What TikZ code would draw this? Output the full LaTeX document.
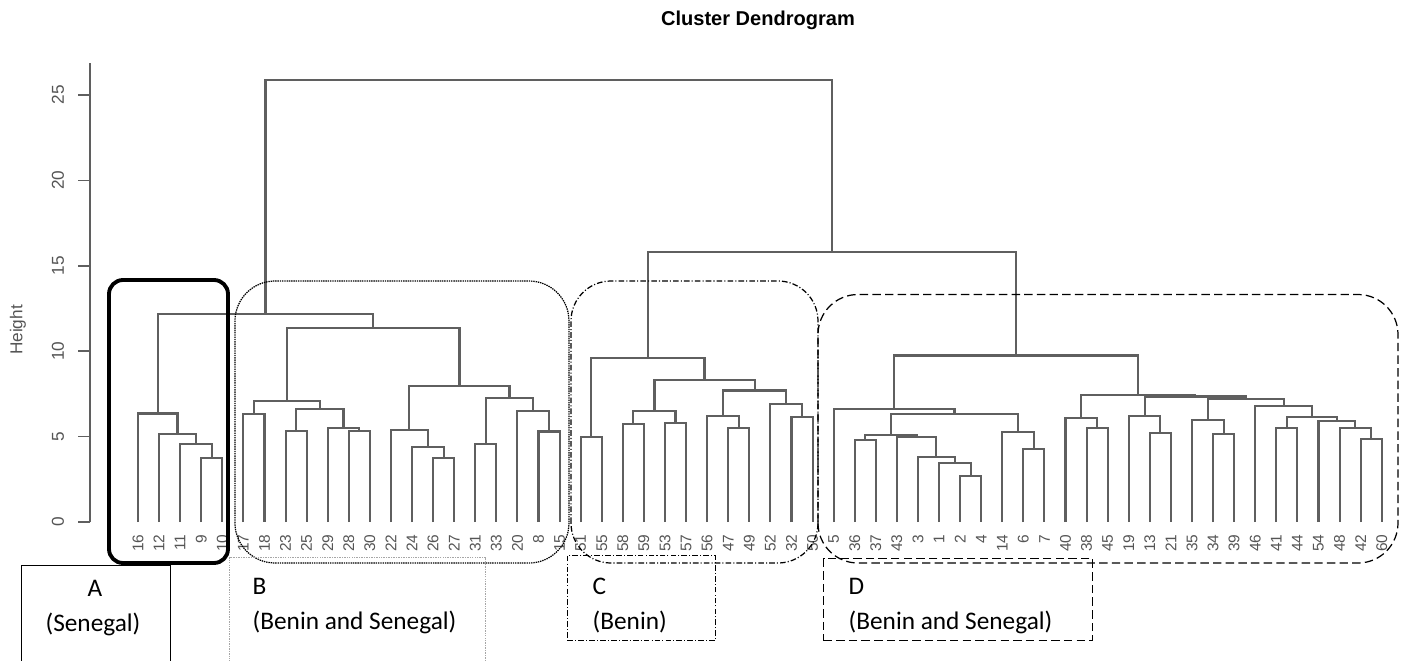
\documentclass[tikz,border=0pt]{standalone}
\usepackage{fontspec}
\setmainfont{Liberation Sans}
\newfontfamily\calibri{Carlito}
\usepackage{xcolor}
\usepackage{tikz}
\usetikzlibrary{calc,positioning}
\definecolor{dendgray}{RGB}{95,95,95}
\definecolor{labgray}{RGB}{85,85,85}
\tikzset{
  branch/.style={draw=dendgray, line width=0.6pt},
  axisline/.style={draw=dendgray, line width=0.5pt},
  leaflab/.style={rotate=90, anchor=east, inner sep=0pt, text=labgray, font=\fontsize{4.4}{5}\selectfont},
  ticklab/.style={rotate=90, inner sep=0pt, text=labgray, font=\fontsize{4.9}{5.8}\selectfont},
  grpbox/.style={draw=black, rounded corners=0.4cm, line width=0.35pt},
  labbox/.style={rectangle, draw, line width=0.3pt, inner sep=0pt, anchor=north west},
  labtext/.style={font=\calibri\fontsize{7.2}{8.6}\selectfont, inner sep=0pt, anchor=west},
}
% join two branches at a given height
\newcommand{\dmerge}[4]{%
  \path ($(#2)!0.5!(#3)$) coordinate (tmp);
  \coordinate (#1) at (tmp |- 0,#4);
  \draw[branch] (#2) |- (#1) -| (#3);
}

\begin{document}
\begin{tikzpicture}
  \useasboundingbox (0,0) rectangle (14.02,6.60);

  % Title and axis label
  \node[font=\bfseries\fontsize{5.7}{7}\selectfont] (title) at (7.58,6.40) {Cluster Dendrogram};
  \node[ticklab] (ylab) at (0.18,3.30) {Height};

  \begin{scope}[shift={(1.1692,1.38)}, x=0.2108cm, y=0.1708cm]
    % Height axis
    \draw[axisline] (-1.277,0) -- (-1.277,26.9);
    \foreach \h in {0,5,...,25} {
      \draw[axisline] (-1.277,\h) -- ++(-0.12cm,0);
      \node[ticklab] (tick\h) at (-2.795,\h) {\h};
    }

    % Leaves
    \foreach \lab [count=\i] in {16,12,11,9,10,17,18,23,25,29,28,30,22,24,26,27,31,33,20,8,15,
        51,55,58,59,53,57,56,47,49,52,32,50,5,36,37,43,3,1,2,4,14,6,7,40,38,45,19,13,21,
        35,34,39,46,41,44,54,48,42,60} {
      \coordinate (l\i) at (\i,0);
      \node[leaflab] (t\i) at (\i,-0.7) {\lab};
    }

    % Group A
    \dmerge{a1}{l4}{l5}{3.75}
    \dmerge{a2}{l3}{a1}{4.55}
    \dmerge{a3}{l2}{a2}{5.15}
    \dmerge{a4}{l1}{a3}{6.35}

    % Group B
    \dmerge{b1}{l6}{l7}{6.32}
    \dmerge{b2}{l8}{l9}{5.33}
    \dmerge{b3}{l11}{l12}{5.33}
    \dmerge{b4}{l10}{b3}{5.52}
    \dmerge{b5}{b2}{b4}{6.6}
    \dmerge{b6}{b1}{b5}{7.07}
    \dmerge{b7}{l15}{l16}{3.75}
    \dmerge{b8}{l14}{b7}{4.4}
    \dmerge{b9}{l13}{b8}{5.4}
    \dmerge{b10}{l17}{l18}{4.55}
    \dmerge{b11}{l20}{l21}{5.3}
    \dmerge{b12}{l19}{b11}{6.5}
    \dmerge{b13}{b10}{b12}{7.25}
    \dmerge{b14}{b9}{b13}{7.95}
    \dmerge{b15}{b6}{b14}{11.35}
    \dmerge{ab}{a4}{b15}{12.2}

    % Group C
    \dmerge{c1}{l22}{l23}{5.0}
    \dmerge{c2}{l24}{l25}{5.75}
    \dmerge{c3}{l26}{l27}{5.8}
    \dmerge{c4}{c2}{c3}{6.5}
    \dmerge{c5}{l29}{l30}{5.5}
    \dmerge{c6}{l28}{c5}{6.2}
    \dmerge{c7}{l32}{l33}{6.15}
    \dmerge{c8}{l31}{c7}{6.9}
    \dmerge{c9}{c6}{c8}{7.7}
    \dmerge{c10}{c4}{c9}{8.3}
    \dmerge{c11}{c1}{c10}{9.6}

    % Group D
    \dmerge{d1}{l35}{l36}{4.8}
    \dmerge{d2}{l40}{l41}{2.7}
    \dmerge{d3}{l39}{d2}{3.45}
    \dmerge{d4}{l38}{d3}{3.8}
    \dmerge{d5}{l37}{d4}{5.0}
    \dmerge{d6}{d1}{d5}{5.1}
    \dmerge{d7}{l43}{l44}{4.3}
    \dmerge{d8}{l42}{d7}{5.25}
    \dmerge{d9}{d6}{d8}{6.3}
    \dmerge{d10}{l34}{d9}{6.6}
    \dmerge{d11}{l46}{l47}{5.5}
    \dmerge{d12}{l45}{d11}{6.1}
    \dmerge{d13}{l49}{l50}{5.2}
    \dmerge{d14}{l48}{d13}{6.2}
    \dmerge{d15}{l52}{l53}{5.15}
    \dmerge{d16}{l51}{d15}{5.95}
    \dmerge{d17}{l55}{l56}{5.5}
    \dmerge{d18}{l59}{l60}{4.85}
    \dmerge{d19}{l58}{d18}{5.5}
    \dmerge{d20}{l57}{d19}{5.9}
    \dmerge{d21}{d17}{d20}{6.15}
    \dmerge{d22}{l54}{d21}{6.8}
    \dmerge{d23}{d16}{d22}{7.2}
    \dmerge{d24}{d14}{d23}{7.35}
    \dmerge{d25}{d12}{d24}{7.45}
    \dmerge{d26}{d10}{d25}{9.75}

    % Upper joins
    \dmerge{cd}{c11}{d26}{15.8}
    \dmerge{root}{ab}{cd}{25.9}
  \end{scope}

  % Group outlines
  \draw[grpbox, line width=1.1pt, rounded corners=0.14cm] (1.09,0.97) rectangle (2.28,3.80);
  \draw[grpbox, dash pattern=on 0.4pt off 0.25pt] (2.35,0.97) rectangle (5.69,3.79);
  \draw[grpbox, dash pattern=on 1.6pt off 0.6pt on 0.3pt off 0.6pt] (5.71,0.97) rectangle (8.18,3.79);
  \draw[grpbox, dash pattern=on 2.4pt off 1.2pt] (8.18,0.97) rectangle (13.98,3.655);

  % Label boxes
  \node[labbox, minimum width=1.49cm, minimum height=1.6cm] (boxA) at (0.21,0.95) {};
  \node[labbox, draw=gray!70, dash pattern=on 0.4pt off 0.3pt, minimum width=2.56cm, minimum height=1.6cm] (boxB) at (2.29,1.03) {};
  \node[labbox, dash pattern=on 1.6pt off 0.6pt on 0.3pt off 0.6pt, minimum width=1.48cm, minimum height=0.85cm] (boxC) at (5.67,1.05) {};
  \node[labbox, dash pattern=on 2.4pt off 1.2pt, minimum width=2.69cm, minimum height=0.82cm] (boxD) at (8.23,1.02) {};

  \node[labtext, anchor=center] (nameA) at (0.95,0.72) {A};
  \node[labtext, anchor=center] (regA) at (0.93,0.36) {(Senegal)};
  \node[labtext] (nameB) at (2.52,0.74) {B};
  \node[labtext] (regB) at (2.52,0.38) {(Benin and Senegal)};
  \node[labtext] (nameC) at (5.92,0.74) {C};
  \node[labtext] (regC) at (5.92,0.38) {(Benin)};
  \node[labtext] (nameD) at (8.48,0.74) {D};
  \node[labtext] (regD) at (8.48,0.38) {(Benin and Senegal)};
\end{tikzpicture}
\end{document}
